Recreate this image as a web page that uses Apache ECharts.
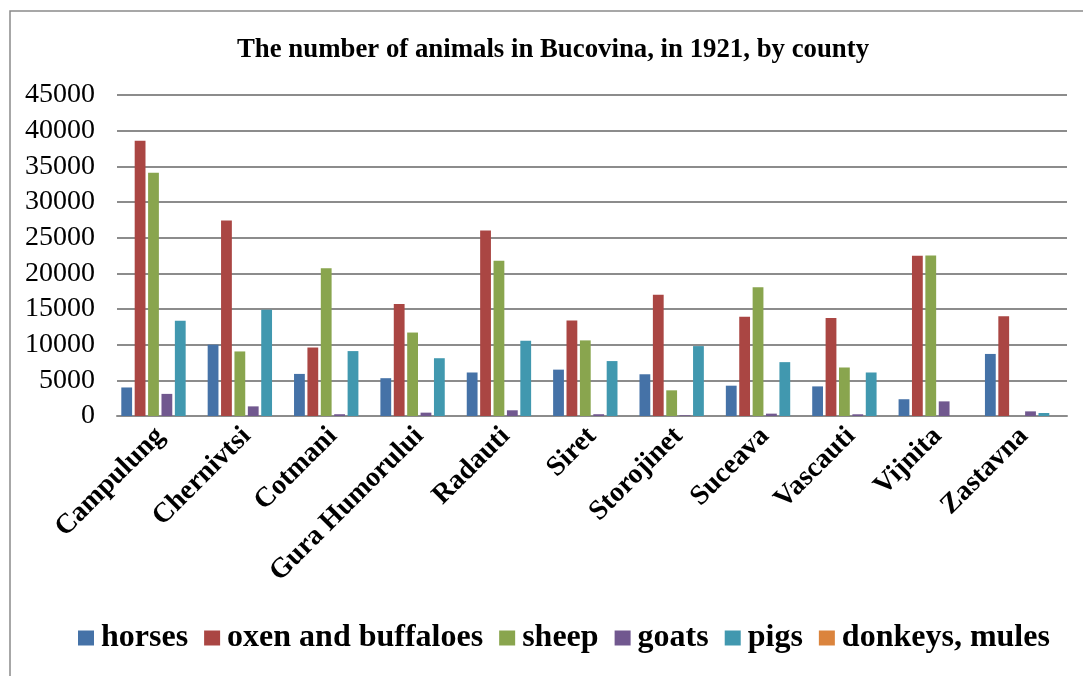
<!DOCTYPE html>
<html>
<head>
<meta charset="utf-8">
<style>
  html, body { margin: 0; padding: 0; background: #fff; }
  #chart { width: 1083px; height: 676px; }
</style>
<script src="https://cdn.jsdelivr.net/npm/echarts@6/dist/echarts.min.js"></script>
</head>
<body>
<div id="chart"></div>
<script>
// The number of animals in Bucovina, in 1921, by county
const counties = ["Campulung", "Chernivtsi", "Cotmani", "Gura Humorului", "Radauti", "Siret",
    "Storojinet", "Suceava", "Vascauti", "Vijnita", "Zastavna"];

const horses = [4000, 10000, 5900, 5300, 6100, 6500, 5850, 4250, 4150, 2350, 8700];
const oxen = [38600, 27400, 9600, 15700, 26000, 13400, 17000, 13900, 13750, 22450, 14000];
const sheep = [34100, 9050, 20700, 11700, 21750, 10600, 3600, 18050, 6800, 22500, 0];
const goats = [3100, 1350, 250, 470, 800, 250, 100, 330, 240, 2050, 650];
const pigs = [13350, 14900, 9100, 8100, 10550, 7700, 9800, 7550, 6100, 0, 420];
const donkeys = [0, 0, 0, 0, 0, 0, 0, 0, 0, 0, 0];

const seriesNames = ["horses", "oxen and buffaloes", "sheep", "goats", "pigs", "donkeys, mules"];
const seriesData = [horses, oxen, sheep, goats, pigs, donkeys];
const colors = ["#4572A7", "#AA4643", "#89A54E", "#71588F", "#4198AF", "#DB843D"];

const serif = "'Liberation Serif', 'Times New Roman', serif";

const chart = echarts.init(document.getElementById("chart"));

const option = {
    backgroundColor: "#fff",
    animation: false,
    color: colors,
    title: {
        text: "The number of animals in Bucovina, in 1921, by county",
        left: 232,
        top: 32,
        textStyle: {
            fontFamily: serif,
            fontWeight: "bold",
            fontSize: 26.8,
            color: "#000",
        },
    },
    legend: {
        bottom: 17,
        left: 73,
        itemWidth: 16,
        itemHeight: 15,
        itemGap: 16,
        icon: "rect",
        textStyle: {
            fontFamily: serif,
            fontWeight: "bold",
            fontSize: 32,
            color: "#000",
            padding: [0, 0, 0, 2],
        },
        data: seriesNames,
    },
    grid: {
        left: 117,
        right: 16,
        top: 95,
        bottom: 260,
    },
    xAxis: {
        type: "category",
        data: counties,
        axisTick: { show: false },
        axisLine: { lineStyle: { color: "#8c8c8c", width: 2 } },
        axisLabel: {
            rotate: 45,
            interval: 0,
            margin: 16,
            fontFamily: serif,
            fontWeight: "bold",
            fontSize: 28,
            color: "#000",
        },
    },
    yAxis: {
        type: "value",
        min: 0,
        max: 45000,
        interval: 5000,
        axisLine: { show: false },
        axisTick: { show: false },
        splitLine: { lineStyle: { color: "#8c8c8c", width: 2 } },
        axisLabel: {
            margin: 22,
            fontFamily: serif,
            fontSize: 28,
            color: "#000",
            formatter: (v) => String(v),
        },
    },
    series: seriesNames.map((name, i) => ({
        name: name,
        type: "bar",
        data: seriesData[i],
        barWidth: 10.8,
        barGap: "24%",
        itemStyle: {
            color: colors[i],
        },
    })),
    graphic: [
        {
            type: "rect",
            shape: { x: 10, y: 11, width: 1100, height: 700 },
            style: { fill: "none", stroke: "#8a8a8a", lineWidth: 1.5 },
            silent: true,
        },
    ],
};

chart.setOption(option);
</script>
</body>
</html>
